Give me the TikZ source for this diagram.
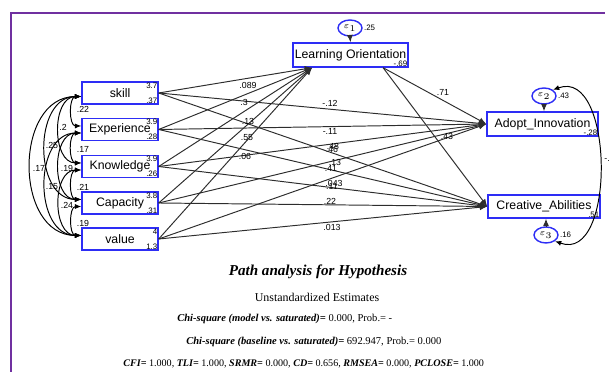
\documentclass[tikz,border=0pt]{standalone}
\usepackage{fontspec}
\setmainfont{Liberation Serif}
\setsansfont{Liberation Sans}
\usetikzlibrary{arrows.meta, calc, shapes.geometric}
\definecolor{boxblue}{RGB}{45,45,245}
\definecolor{framepurple}{RGB}{112,48,160}
\definecolor{pathgray}{RGB}{45,45,45}

\begin{document}
\begin{tikzpicture}[x=0.02cm, y=-0.02cm,
  var/.style={shape=rectangle, draw=boxblue, line width=0.8pt, inner sep=0pt, font=\sffamily\fontsize{7}{8}\selectfont},
  err/.style={shape=ellipse, draw=boxblue, line width=0.8pt, inner sep=0pt, minimum width=0.48cm, minimum height=0.32cm, font=\fontsize{4.5}{5}\selectfont},
  num/.style={inner sep=0.6pt, font=\sffamily\fontsize{4.5}{5}\selectfont},
  coef/.style={inner sep=0pt, font=\sffamily\fontsize{5}{6}\selectfont},
  path/.style={draw=pathgray, line width=0.55pt, -{Latex[length=4.2pt,width=3.4pt]}},
  cov/.style={draw=black, line width=0.55pt, {Latex[length=3.6pt,width=2.9pt]}-{Latex[length=3.6pt,width=2.9pt]}},
  note/.style={inner sep=0pt, font=\fontsize{6}{7}\selectfont}]

\useasboundingbox (0,0) rectangle (610,377);
\draw[framepurple, line width=1.2pt] (11,372) -- (11,13) -- (605,13);

% exogenous variables
\node (skill) [var, minimum width=1.52cm, minimum height=0.44cm] at (120,93) {skill};
\node (skill-m) [num, anchor=north east] at (skill.north east) {3.7};
\node (skill-v) [num, anchor=south east] at (skill.south east) {.37};

\node (exp) [var, minimum width=1.52cm, minimum height=0.44cm] at (120,129.5) {Experience};
\node (exp-m) [num, anchor=north east] at (exp.north east) {3.9};
\node (exp-v) [num, anchor=south east] at (exp.south east) {.28};

\node (know) [var, minimum width=1.52cm, minimum height=0.44cm] at (120,166.5) {Knowledge};
\node (know-m) [num, anchor=north east] at (know.north east) {3.9};
\node (know-v) [num, anchor=south east] at (know.south east) {.26};

\node (cap) [var, minimum width=1.52cm, minimum height=0.44cm] at (120,203) {Capacity};
\node (cap-m) [num, anchor=north east] at (cap.north east) {3.8};
\node (cap-v) [num, anchor=south east] at (cap.south east) {.31};

\node (val) [var, minimum width=1.52cm, minimum height=0.44cm] at (120,239) {value};
\node (val-m) [num, anchor=north east] at (val.north east) {4};
\node (val-v) [num, anchor=south east] at (val.south east) {1.3};

% endogenous variables
\node (lo) [var, minimum width=2.3cm, minimum height=0.48cm] at (350.5,55) {Learning Orientation};
\node (lo-v) [num, anchor=south east] at (lo.south east) {-.69};
\node (e1) [err] at (350,28) {$\varepsilon_1$};
\node (e1-v) [num, anchor=west] at (e1.east) {.25};
\draw[path] (e1.south) -- (lo.north);

\node (ai) [var, minimum width=2.22cm, minimum height=0.48cm] at (542.5,124) {Adopt\_Innovation};
\node (ai-v) [num, anchor=south east] at (ai.south east) {-.28};
\node (e2) [err] at (544,96) {$\varepsilon_2$};
\node (e2-v) [num, anchor=west] at (e2.east) {.43};
\draw[path] (e2.south) -- (e2.south |- ai.north);

\node (ca) [var, minimum width=2.24cm, minimum height=0.46cm] at (544,206.5) {Creative\_Abilities};
\node (ca-v) [num, anchor=south east] at (ca.south east) {.51};
\node (e3) [err] at (546,235) {$\varepsilon_3$};
\node (e3-v) [num, anchor=west] at (e3.east) {.16};
\draw[path] (e3.north) -- (e3.north |- ca.south);

\draw[cov] (e2.north east) to[out=20, in=-20, looseness=1.1] (e3.south east);
\node (e23) [coef, anchor=west] at (604,158) {-.1};

\coordinate (lo-in) at ($(lo.south west)!.17!(lo.south east)$);
\coordinate (lo-out) at ($(lo.south west)!.78!(lo.south east)$);

% paths
\draw[path] (skill.east) -- (lo-in);
\draw[path] (exp.east) -- (lo-in);
\draw[path] (know.east) -- (lo-in);
\draw[path] (cap.east) -- (lo-in);
\draw[path] (val.east) -- (lo-in);

\draw[path] (skill.east) -- (ai.west);
\draw[path] (exp.east) -- (ai.west);
\draw[path] (know.east) -- (ai.west);
\draw[path] (cap.east) -- (ai.west);
\draw[path] (val.east) -- (ai.west);

\draw[path] (skill.east) -- (ca.west);
\draw[path] (exp.east) -- (ca.west);
\draw[path] (know.east) -- (ca.west);
\draw[path] (cap.east) -- (ca.west);
\draw[path] (val.east) -- (ca.west);

\draw[path] (lo-out) -- (ai.west);
\draw[path] (lo-out) -- (ca.west);

\node (c-skill-lo) [coef] at (248,85) {.089};
\node (c-exp-lo) [coef] at (244,102) {.3};
\node (c-know-lo) [coef] at (248,121) {.13};
\node (c-cap-lo) [coef] at (247,138) {.55};
\node (c-val-lo) [coef] at (245,156) {.06};
\node (c-skill-ai) [coef] at (330,103) {-.12};
\node (c-exp-ai) [coef] at (330,131) {-.11};
\node (c-know-ai) [coef] at (333,146) {.48};
\node (c-skill-ca) [coef] at (332,149) {.46};
\node (c-cap-ai) [coef] at (335,162) {.13};
\node (c-exp-ca) [coef] at (331,168) {.41};
\node (c-val-ai) [coef] at (334,183) {.043};
\node (c-know-ca) [coef] at (332,186) {.11};
\node (c-cap-ca) [coef] at (330,201) {.22};
\node (c-val-ca) [coef] at (332,227) {.013};
\node (c-lo-ai) [coef] at (443,92) {.71};
\node (c-lo-ca) [coef] at (447,136) {.43};

% covariances
\draw[cov] ([yshift=-2pt]skill.west) to[out=180, in=180, looseness=1.1] ([yshift=2pt]exp.west);
\draw[cov] ([yshift=-2pt]skill.west) to[out=180, in=180, looseness=1.15] ([yshift=2pt]know.west);
\draw[cov] ([yshift=-2pt]skill.west) to[out=180, in=180, looseness=1.2] ([yshift=2pt]cap.west);
\draw[cov] ([yshift=-2pt]skill.west) to[out=180, in=180, looseness=1.25] ([yshift=2pt]val.west);
\draw[cov] ([yshift=-2pt]exp.west) to[out=180, in=180, looseness=1.1] ([yshift=2pt]know.west);
\draw[cov] ([yshift=-2pt]exp.west) to[out=180, in=180, looseness=1.15] ([yshift=2pt]cap.west);
\draw[cov] ([yshift=-2pt]exp.west) to[out=180, in=180, looseness=1.2] ([yshift=2pt]val.west);
\draw[cov] ([yshift=-2pt]know.west) to[out=180, in=180, looseness=1.1] ([yshift=2pt]cap.west);
\draw[cov] ([yshift=-2pt]know.west) to[out=180, in=180, looseness=1.15] ([yshift=2pt]val.west);
\draw[cov] ([yshift=-2pt]cap.west) to[out=180, in=180, looseness=1.1] ([yshift=2pt]val.west);

\node (r-skill-exp) [coef] at (83,109) {.22};
\node (r-skill-know) [coef] at (63,127) {.2};
\node (r-skill-cap) [coef] at (52,145) {.25};
\node (r-skill-val) [coef] at (39,168) {.17};
\node (r-exp-know) [coef] at (83,149) {.17};
\node (r-exp-cap) [coef] at (67,168) {.19};
\node (r-exp-val) [coef] at (52,187) {.15};
\node (r-know-cap) [coef] at (83,187) {.21};
\node (r-know-val) [coef] at (67,205) {.24};
\node (r-cap-val) [coef] at (83,223) {.19};

% notes
\node (title) [note, font=\bfseries\itshape\fontsize{8.6}{10}\selectfont] at (318,272) {Path analysis for Hypothesis};
\node (est) [note, font=\fontsize{6.8}{8}\selectfont] at (317,297) {Unstandardized Estimates};
\node (chi-m) [note, anchor=west] at (177,319) {\textbf{\textit{Chi-square (model vs. saturated)=}} 0.000, Prob.= -};
\node (chi-b) [note, anchor=west] at (186,342) {\textbf{\textit{Chi-square (baseline vs. saturated)=}} 692.947, Prob.= 0.000};
\node (fit) [note, anchor=west, font=\fontsize{5.75}{7}\selectfont] at (123,364) {\textbf{\textit{CFI=}} 1.000, \textbf{\textit{TLI=}} 1.000, \textbf{\textit{SRMR=}} 0.000, \textbf{\textit{CD=}} 0.656, \textbf{\textit{RMSEA=}} 0.000, \textbf{\textit{PCLOSE=}} 1.000};

\end{tikzpicture}
\end{document}
